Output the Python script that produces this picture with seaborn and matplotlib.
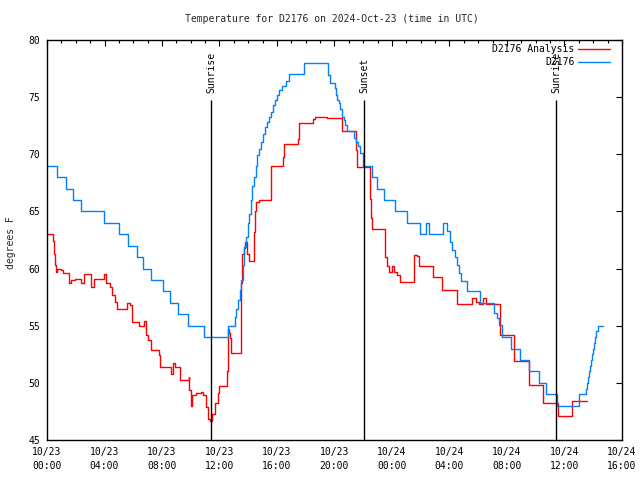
import matplotlib
matplotlib.use("Agg")
import matplotlib.pyplot as plt
import matplotlib.dates as mdates
import seaborn as sns
import pandas as pd

# ---- data (hours after 2024-10-23 00:00 UTC, temperature in F) ----
obs_hours = [0.00, 0.67, 1.32, 1.83, 2.34, 3.99, 5.01, 5.66, 6.24, 6.70, 7.21, 8.05, 8.56,
             9.13, 9.81, 10.94, 12.56, 13.08, 13.17, 13.29, 13.41, 13.52, 13.63, 13.73, 13.84,
             13.96, 14.05, 14.17, 14.28, 14.40, 14.52, 14.63, 14.75, 14.89, 15.03, 15.17, 15.30,
             15.44, 15.58, 15.72, 15.86, 16.00, 16.14, 16.35, 16.63, 16.83, 17.85,
             19.53, 19.69, 20.03, 20.10, 20.19, 20.30, 20.41, 20.52, 20.64, 20.75, 20.86,
             21.36, 21.50, 21.66, 21.77, 21.96, 22.61, 22.96, 23.44, 24.21, 25.04, 25.95,
             26.40, 26.54, 27.55, 27.83, 28.03, 28.17, 28.38, 28.52, 28.66, 28.80, 29.25,
             30.09, 31.10, 31.30, 31.44, 31.65, 32.31, 32.90, 33.53, 34.23, 34.71, 35.51,
             37.03, 37.50, 37.57, 37.64, 37.71, 37.78, 37.85, 37.92, 37.99, 38.06, 38.13,
             38.20, 38.30, 38.66]
obs_temps = [69, 68, 67, 66, 65, 64, 63, 62, 61, 60, 59, 58, 57,
             56, 55, 54, 55, 55.8, 56.5, 57.25, 58.1, 59, 60.3, 61.9, 62.8,
             64.0, 64.8, 66.0, 67.2, 68.0, 69.0, 69.9, 70.5, 71.1, 71.8, 72.4, 72.85,
             73.3, 73.7, 74.3, 74.75, 75.2, 75.6, 76.0, 76.4, 77.0, 78.0,
             76.9, 76.2, 75.8, 75.2, 74.75, 74.5, 74.0, 73.3, 73.0, 72.6, 72.0,
             71.4, 71.1, 70.7, 70.1, 69.0, 68.0, 67.0, 66.0, 65.0, 64.0, 63.0,
             64.0, 63.0, 64.0, 63.3, 62.35, 61.6, 61.0, 60.3, 59.6, 58.9, 58.0,
             57.0, 56.1, 55.65, 55.06, 54.0, 53.0, 52.0, 51.0, 50.0, 49.0, 48.0,
             49.0, 49.5, 50.0, 50.5, 51.0, 51.5, 52.0, 52.5, 53.0, 53.5, 54.0,
             54.5, 55.0, 55.0]

ana_hours = [0.00, 0.45, 0.52, 0.59, 0.65, 0.70, 0.95, 1.11, 1.53, 1.67, 1.97, 2.37, 2.57,
             3.06, 3.27, 3.97, 4.10, 4.38, 4.54, 4.73, 4.89, 5.57, 5.77, 5.89, 6.38, 6.77,
             6.89, 7.03, 7.23, 7.79, 7.86, 8.63, 8.74, 8.90, 9.25, 9.86, 9.88, 10.00, 10.09,
             10.37, 10.71, 10.85, 11.06, 11.20, 11.34, 11.48, 11.69, 11.90, 11.97, 12.54,
             12.56, 12.63, 12.72, 12.77, 12.80, 13.47, 13.52, 13.58, 13.68, 13.77, 13.91,
             14.03, 14.40, 14.47, 14.56, 14.75, 15.56, 16.43, 16.48, 17.48, 17.53, 18.50,
             18.64, 19.48, 20.52, 21.50, 21.59, 22.47, 22.54, 22.63, 23.51, 23.63, 23.79,
             24.00, 24.14, 24.35, 24.56, 25.50, 25.74, 25.88, 26.85, 27.48, 28.52, 29.57,
             29.84, 30.05, 30.33, 30.54, 31.51, 32.51, 33.55, 34.53, 35.57, 36.54, 37.59]
ana_temps = [63.0, 62.4, 61.3, 60.3, 59.7, 60.0, 59.9, 59.6, 58.7, 59.0, 59.1, 58.7, 59.5,
             58.4, 59.1, 59.5, 58.7, 58.4, 57.7, 57.1, 56.5, 57.0, 56.8, 55.3, 55.0, 55.4,
             54.2, 53.75, 52.9, 52.4, 51.4, 50.8, 51.7, 51.4, 50.25, 50.5, 49.4, 48.0, 48.9,
             49.1, 49.2, 48.9, 47.9, 46.8, 46.7, 47.3, 48.2, 49.1, 49.7, 51.0,
             54.7, 54.4, 53.9, 53.5, 52.6, 54.8, 58.7, 61.3, 61.8, 62.3, 61.3,
             60.7, 63.2, 65.0, 65.8, 66.0, 69.0, 69.8, 70.9, 71.3, 72.7, 73.1,
             73.3, 73.15, 72.0, 70.4, 68.9, 66.1, 64.4, 63.5, 61.0, 60.2, 59.7,
             60.2, 59.7, 59.4, 58.85, 61.2, 61.1, 60.2, 59.3, 58.1, 56.9, 57.4,
             57.1, 56.9, 57.4, 56.9, 54.2, 51.9, 49.8, 48.2, 47.1, 48.4, 48.4]

series_names = ["D2176 Analysis", "D2176"]
series_colors = ["#ff0000", "#0080ff"]
sun_events = ["Sunrise", "Sunset", "Sunrise"]
sun_hours = [11.43, 22.07, 35.43]
xtick_hours = [0, 4, 8, 12, 16, 20, 24, 28, 32, 36, 40]
xtick_labels = ["10/23\n00:00", "10/23\n04:00", "10/23\n08:00", "10/23\n12:00",
                "10/23\n16:00", "10/23\n20:00", "10/24\n00:00", "10/24\n04:00",
                "10/24\n08:00", "10/24\n12:00", "10/24\n16:00"]
ytick_values = [45, 50, 55, 60, 65, 70, 75, 80]

title = "Temperature for D2176 on 2024-Oct-23 (time in UTC)"
ylabel = "degrees F"
base = pd.Timestamp("2024-10-23 00:00")

# ---- build long-form table ----
df = pd.concat([
    pd.DataFrame({"time": base + pd.to_timedelta(ana_hours, unit="h"),
                  "temp": ana_temps, "series": series_names[0]}),
    pd.DataFrame({"time": base + pd.to_timedelta(obs_hours, unit="h"),
                  "temp": obs_temps, "series": series_names[1]}),
], ignore_index=True)

sns.set_theme(style="white")
plt.rcParams["font.family"] = ["DejaVu Sans Mono"]
FS = 7

fig = plt.figure(figsize=(6.4, 4.8), dpi=100)
ax = fig.add_axes([47 / 640, 40 / 480, 575 / 640, 400 / 480])

sns.lineplot(data=df, x="time", y="temp", hue="series", hue_order=series_names,
             palette=series_colors, estimator=None, drawstyle="steps-post",
             linewidth=1.0, ax=ax, legend=True)

ax.set_xlim(base, base + pd.Timedelta(hours=40))
ax.set_ylim(45, 80)
ax.set_yticks(ytick_values)
tick_pos = mdates.date2num([base + pd.Timedelta(hours=h) for h in xtick_hours])
ax.set_xticks(tick_pos)
ax.set_xticklabels(xtick_labels, linespacing=1.45)
ax.xaxis.set_minor_locator(mdates.HourLocator())

ax.set_xlabel("")
ax.set_ylabel("")
for s in ax.spines.values():
    s.set_color("black")
    s.set_linewidth(1.0)
ax.tick_params(axis="both", which="both", direction="in", top=True, right=True,
               colors="black", labelsize=FS, width=0.8)
ax.tick_params(axis="both", which="major", length=4.5, pad=5)
ax.tick_params(axis="both", which="minor", length=2.5)
ax.grid(False)

# sunrise / sunset markers
for name, h in zip(sun_events, sun_hours):
    t = base + pd.Timedelta(hours=h)
    ax.vlines(t, 45, 74.75, color="black", linewidth=1.0)
    ax.text(t, 75.35, name, rotation=90, ha="center", va="bottom", fontsize=FS,
            color="black")

leg = ax.legend(loc="upper right", bbox_to_anchor=(0.979, 0.99), frameon=False,
                markerfirst=False, fontsize=FS, handlelength=3.3, handletextpad=0.35,
                labelspacing=0.35, borderaxespad=0, borderpad=0)
for t in leg.get_texts():
    t.set_color("black")

fig.text(332 / 640, 1 - 19 / 480, title, ha="center", va="center", fontsize=FS)
fig.text(11 / 640, 1 - 243 / 480, ylabel, ha="center", va="center", rotation=90,
         fontsize=FS)

fig.savefig("out.png", dpi=100, facecolor="white")
